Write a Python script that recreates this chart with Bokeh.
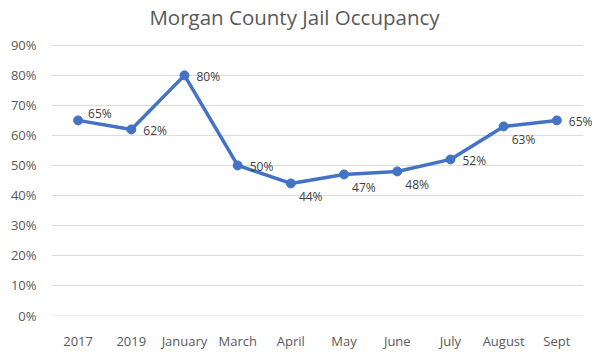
from bokeh.plotting import figure
from bokeh.models import ColumnDataSource, Range1d, FixedTicker, NumeralTickFormatter, LabelSet, Label
from bokeh.core.properties import value
from bokeh.embed import file_html
from bokeh.resources import INLINE

# ---- data ----
title_text = "Morgan County Jail Occupancy"
categories = ["2017", "2019", "January", "March", "April", "May", "June", "July", "August", "Sept"]
occupancy = [0.65, 0.62, 0.80, 0.50, 0.44, 0.47, 0.48, 0.52, 0.63, 0.65]
label_text = ["65%", "62%", "80%", "50%", "44%", "47%", "48%", "52%", "63%", "65%"]
y_ticks = [0.0, 0.1, 0.2, 0.3, 0.4, 0.5, 0.6, 0.7, 0.8, 0.9]

# label placement (style): where each data label sits relative to its point
placement = ["above", "right", "right", "right", "below", "below", "below", "right", "below", "right"]
offsets = {"above": (10, 7), "right": (12, -1), "below": (8, -13)}

idx = list(range(len(categories)))
src = ColumnDataSource(dict(
    x=idx, val=occupancy, lab=label_text,
    dx=[offsets[p][0] for p in placement],
    dy=[offsets[p][1] for p in placement],
))

# ---- layout ----
W, H = 592, 352
border_left, border_bottom = 51, 36
plot_top_px = 45            # pixel row of the top gridline
title_center_px = 17        # pixel row of the title's centre
n = len(categories)
right_extra = 0.17          # room right of the plot area for the last data label
frame_h = H - border_bottom
px_per_unit = (frame_h - plot_top_px) / (y_ticks[-1] - y_ticks[0])
y_top = y_ticks[-1] + plot_top_px / px_per_unit

p = figure(width=W, height=H, output_backend="svg", toolbar_location=None,
           x_range=Range1d(-0.5, n - 0.5 + right_extra),
           y_range=Range1d(y_ticks[0], y_top),
           min_border_left=border_left, min_border_right=0, min_border_top=0,
           min_border_bottom=border_bottom)

# screen units here are relative to the plot frame (left edge, bottom edge)
title = Label(x=W / 2 - 2 - border_left, y=frame_h - title_center_px,
              x_units="screen", y_units="screen", text=title_text,
              text_font="Open Sans", text_font_size="20.5px", text_color="#595959",
              text_align="center", text_baseline="middle")
p.add_layout(title)

# horizontal gridlines spanning the category band only
p.segment(x0=[-0.5] * len(y_ticks), x1=[n - 0.5] * len(y_ticks), y0=y_ticks, y1=y_ticks,
          line_color="#d9d9d9", line_width=1)

p.line("x", "val", source=src, line_color="#4472C4", line_width=3.5)
p.scatter("x", "val", source=src, size=9, fill_color="#4472C4", line_color="#4472C4")

labels = LabelSet(x="x", y="val", text="lab", source=src, x_offset="dx", y_offset="dy",
                  text_font=value("Open Sans"), text_font_size="12px", text_color="#404040",
                  text_baseline="middle", text_align="left")
p.add_layout(labels)

p.outline_line_color = None
p.xgrid.grid_line_color = None
p.ygrid.grid_line_color = None
p.yaxis.ticker = FixedTicker(ticks=y_ticks)
p.yaxis.formatter = NumeralTickFormatter(format="0%")
p.xaxis.ticker = FixedTicker(ticks=idx)
p.xaxis.major_label_overrides = {i: c for i, c in zip(idx, categories)}

for ax in (p.xaxis, p.yaxis):
    ax.axis_line_color = None
    ax.major_tick_line_color = None
    ax.minor_tick_line_color = None
    ax.major_label_text_font = "Open Sans"
    ax.major_label_text_font_size = "13px"
    ax.major_label_text_color = "#595959"
p.yaxis.major_label_standoff = 9
p.xaxis.major_label_standoff = 10

open("out.html", "w").write(file_html(p, INLINE))
